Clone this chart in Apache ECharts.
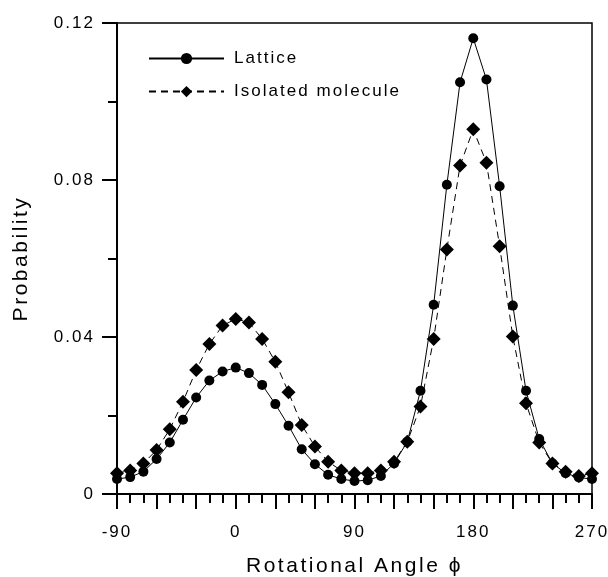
<!DOCTYPE html>
<html>
<head>
<meta charset="utf-8">
<script src="https://cdn.jsdelivr.net/npm/echarts@6/dist/echarts.min.js"></script>
<style>
html,body{margin:0;padding:0;background:#fff;}
#chart{width:608px;height:577px;}
</style>
</head>
<body>
<div id="chart"></div>
<script>
// ---- data ----
const angles = [-90,-80,-70,-60,-50,-40,-30,-20,-10,0,10,20,30,40,50,60,70,80,90,100,110,120,130,140,150,160,170,180,190,200,210,220,230,240,250,260,270];
const lattice = [0.0038,0.0043,0.0057,0.0089,0.0131,0.0189,0.0246,0.0289,0.0312,0.0322,0.0308,0.0278,0.0229,0.0174,0.0114,0.0076,0.0049,0.0038,0.0033,0.0035,0.0046,0.0078,0.0133,0.0263,0.0482,0.0788,0.1049,0.1161,0.1056,0.0784,0.0480,0.0263,0.0140,0.0078,0.0053,0.0042,0.0038];
const isolated = [0.0053,0.0060,0.0078,0.0112,0.0165,0.0235,0.0316,0.0382,0.0429,0.0446,0.0437,0.0395,0.0337,0.0259,0.0176,0.0121,0.0082,0.0060,0.0053,0.0053,0.0060,0.0082,0.0133,0.0223,0.0395,0.0623,0.0837,0.0929,0.0844,0.0631,0.0401,0.0231,0.0131,0.0078,0.0057,0.0046,0.0053];
const xTickLabels = [-90,0,90,180,270];
const yTickLabels = ['0','0.04','0.08','0.12'];
const seriesNames = ['Lattice','Isolated molecule'];
const xTitle = 'Rotational Angle \u03D5';
const yTitle = 'Probability';

// letter spacing (tracking) for canvas text
(function(){
  const proto = CanvasRenderingContext2D.prototype;
  const desc = Object.getOwnPropertyDescriptor(proto, 'font');
  if (!desc || !('letterSpacing' in proto)) return;
  Object.defineProperty(proto, 'font', {
    configurable: true,
    get(){ return desc.get.call(this); },
    set(v){
      desc.set.call(this, v);
      const m = /(\d+(\.\d+)?)px/.exec(v);
      const s = m ? parseFloat(m[1]) : 12;
      try { this.letterSpacing = (s * 0.12).toFixed(2) + 'px'; } catch(e){}
    }
  });
})();

const FONT = '"Liberation Sans", Arial, sans-serif';
const chart = echarts.init(document.getElementById('chart'), null, {renderer:'canvas'});
const pairs = (ys) => angles.map((a,i)=>[a, ys[i]]);

chart.setOption({
  animation: false,
  backgroundColor: '#fff',
  textStyle: {fontFamily: FONT, color: '#000'},
  grid: {left: 117, right: 16, top: 23, bottom: 83, show: true, borderColor: '#000', borderWidth: 1.5,
         containLabel: false, outerBoundsMode: 'none'},
  legend: {
    left: 143, top: 44, orient: 'vertical',
    itemWidth: 75, itemHeight: 14, itemGap: 14,
    textStyle: {fontFamily: FONT, fontSize: 17, color: '#000', padding: [0,0,0,5]},
    data: seriesNames
  },
  xAxis: {
    type: 'value', min: -90, max: 270, interval: 30,
    name: xTitle, nameLocation: 'middle', nameGap: 60,
    nameTextStyle: {fontFamily: FONT, fontSize: 21, color: '#000'},
    axisLine: {onZero: false, lineStyle: {color: '#000', width: 2}},
    axisTick: {inside: false, length: 15, lineStyle: {color: '#000', width: 2}},
    minorTick: {show: true, splitNumber: 3, length: 9, lineStyle: {color: '#000', width: 2}},
    splitLine: {show: false},
    axisLabel: {fontFamily: FONT, fontSize: 17, color: '#000', margin: 29,
      formatter: v => xTickLabels.indexOf(v) >= 0 ? String(v) : ''}
  },
  yAxis: {
    type: 'value', min: 0, max: 0.12, interval: 0.04,
    name: yTitle, nameLocation: 'middle', nameGap: 84, nameRotate: 90,
    nameTextStyle: {fontFamily: FONT, fontSize: 21, color: '#000'},
    axisLine: {onZero: false, lineStyle: {color: '#000', width: 2}},
    axisTick: {inside: false, length: 15, lineStyle: {color: '#000', width: 2}},
    minorTick: {show: true, splitNumber: 2, length: 9, lineStyle: {color: '#000', width: 2}},
    splitLine: {show: false},
    axisLabel: {fontFamily: FONT, fontSize: 17, color: '#000', margin: 22,
      formatter: v => { const i = Math.round(v/0.04); return yTickLabels[i] !== undefined ? yTickLabels[i] : ''; }}
  },
  series: [
    {
      name: seriesNames[0], type: 'line', data: pairs(lattice),
      symbol: 'circle', symbolSize: 10, showAllSymbol: true,
      itemStyle: {color: '#000'},
      lineStyle: {color: '#000', width: 1}
    },
    {
      name: seriesNames[1], type: 'line', data: pairs(isolated),
      symbol: 'diamond', symbolSize: 14, showAllSymbol: true,
      itemStyle: {color: '#000'},
      lineStyle: {color: '#000', width: 1, type: [7,5]}
    }
  ]
});
</script>
</body>
</html>
